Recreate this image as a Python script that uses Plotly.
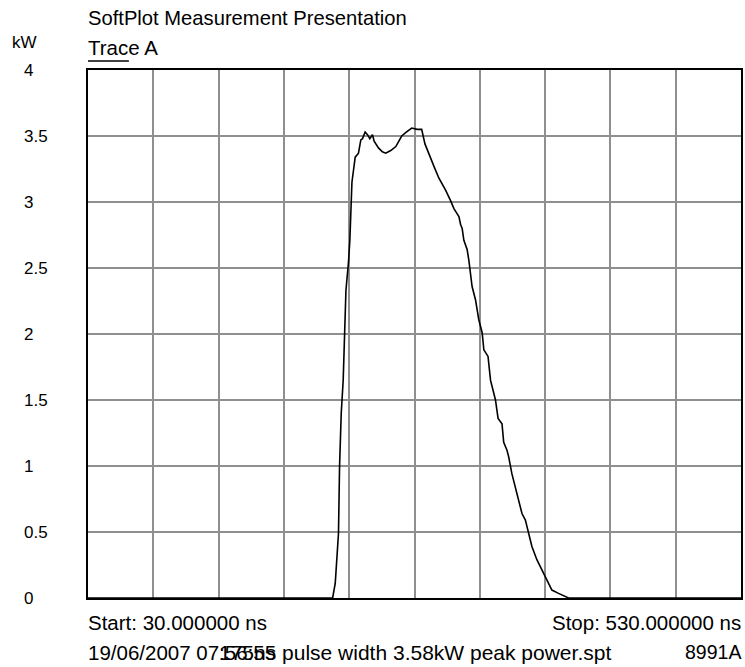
import plotly.graph_objects as go

# Time (ns) and power (kW)
time_ns = [30, 217.3, 219.3, 221.8, 222.6, 223.9, 225.4, 226.7, 227.5, 229.5, 230.5, 232.1,
           234.6, 237.1, 238.9, 240.2, 242.2, 244.0, 245.8, 247.8, 249.1, 252.4, 255.4, 258.0,
           261.8, 265.7, 268.2, 270.2, 273.7, 277.9, 282.1, 285.5, 288.0, 292.4, 294.9, 298.7,
           303.8, 307.6, 310.2, 312.7, 314.0, 315.3, 316.5, 317.8, 320.3, 321.6, 324.1, 326.7,
           329.2, 331.8, 333.1, 336.3, 338.2, 342.0, 344.0, 347.0, 348.3, 350.8, 352.1, 354.6,
           358.5, 362.3, 364.9, 367.4, 369.9, 373.7, 377.6, 381.4, 385.2, 390.3, 396.6, 398, 530]
power_kw = [0, 0, 0.11, 0.49, 0.99, 1.40, 1.65, 2.01, 2.33, 2.55, 2.71, 3.15,
            3.34, 3.37, 3.47, 3.48, 3.53, 3.51, 3.48, 3.51, 3.46, 3.41, 3.38, 3.37,
            3.39, 3.42, 3.46, 3.50, 3.53, 3.56, 3.55, 3.55, 3.44, 3.34, 3.27, 3.18,
            3.09, 3.01, 2.95, 2.91, 2.89, 2.83, 2.80, 2.71, 2.64, 2.56, 2.36, 2.26,
            2.11, 2.01, 1.88, 1.83, 1.65, 1.50, 1.36, 1.32, 1.18, 1.12, 1.07, 0.94,
            0.79, 0.64, 0.59, 0.49, 0.39, 0.29, 0.21, 0.14, 0.06, 0.035, 0.01, 0, 0]

y_ticks = [0, 0.5, 1, 1.5, 2, 2.5, 3, 3.5, 4]
y_tick_labels = ["0", "0.5", "1", "1.5", "2", "2.5", "3", "3.5", "4"]

FONT = "Liberation Sans, Arial, sans-serif"
FS_TICK = 17
FS_TEXT = 20.5
W_PLOT = 655

def px_x(p):
    return (p - 88) / W_PLOT

def px_y(p):
    return (598 - p) / 528

fig = go.Figure()
fig.add_trace(go.Scatter(x=time_ns, y=power_kw, mode="lines",
                         line=dict(color="black", width=1.6), hoverinfo="skip"))

annotations = []
for v, t in zip(y_ticks, y_tick_labels):
    annotations.append(dict(x=px_x(22), y=v, xref="paper", yref="y", text=t,
                            showarrow=False, xanchor="left", yanchor="middle",
                            font=dict(size=FS_TICK)))

texts = [
    ("SoftPlot Measurement Presentation", 88, 18, "left", FS_TEXT - 0.3),
    ("Trace A", 88, 47, "left", FS_TEXT),
    ("kW", 12, 42, "left", FS_TICK),
    ("Start: 30.000000 ns", 88, 622, "left", FS_TEXT),
    ("Stop: 530.000000 ns", 743, 622, "right", FS_TEXT),
    ("19/06/2007 07:56:55", 88, 652, "left", FS_TEXT),
    ("175ns pulse width 3.58kW peak power.spt", 219, 652, "left", 21),
    ("8991A", 743, 652, "right", 19.5),
]
for t, x, y, anc, fs in texts:
    annotations.append(dict(x=px_x(x), y=px_y(y), xref="paper", yref="paper", text=t,
                            showarrow=False, xanchor=anc, yanchor="middle",
                            font=dict(size=fs), xshift=(-2 if anc == "left" else 2)))

fig.update_layout(
    width=745, height=667,
    margin=dict(l=88, r=2, t=70, b=69),
    paper_bgcolor="white", plot_bgcolor="white",
    font=dict(family=FONT, size=FS_TICK, color="black"),
    showlegend=False,
    annotations=annotations,
    shapes=[dict(type="line", xref="paper", yref="paper",
                 x0=0, x1=px_x(129), y0=px_y(61), y1=px_y(61),
                 line=dict(color="black", width=1.5))],
    xaxis=dict(range=[30, 530], dtick=50, tick0=30, showticklabels=False, ticks="",
               showgrid=True, gridcolor="#8f8f8f", gridwidth=1.5, zeroline=False,
               showline=True, linecolor="black", linewidth=2, mirror=True, fixedrange=True),
    yaxis=dict(range=[0, 4], dtick=0.5, showticklabels=False, ticks="",
               showgrid=True, gridcolor="#8f8f8f", gridwidth=1.5, zeroline=False,
               showline=True, linecolor="black", linewidth=2, mirror=True, fixedrange=True),
)

fig.write_html("out.html", config={"displayModeBar": False})
